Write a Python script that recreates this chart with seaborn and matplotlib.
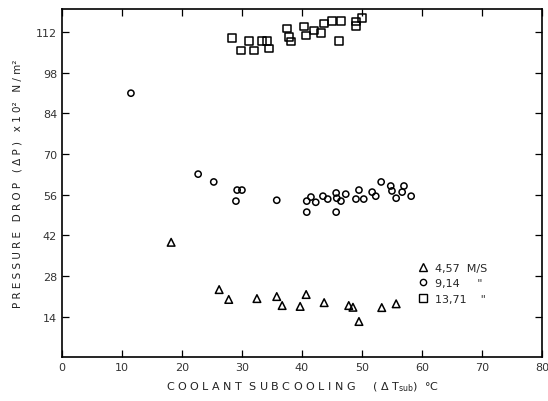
import pandas as pd
import seaborn as sns
import matplotlib.pyplot as plt
from matplotlib.lines import Line2D

# 4.57 m/s (triangles)
tri_x = [18.2, 26.2, 27.8, 32.5, 35.8, 36.7, 39.7, 40.7, 43.7, 47.8, 48.5, 49.5, 53.3, 55.7]
tri_y = [39.6, 23.3, 19.9, 20.2, 20.9, 17.8, 17.5, 21.6, 18.8, 17.8, 17.2, 12.3, 17.1, 18.4]

# 9.14 m/s (circles)
circ_x = [11.5, 22.7, 25.3, 29.2, 30.0, 29.0, 35.8, 40.8, 40.8, 41.5, 42.3, 43.5, 44.3,
          45.7, 45.8, 46.5, 45.7, 47.3, 49.0, 49.5, 50.3, 51.7, 52.3, 53.2, 54.8, 55.0,
          55.7, 56.7, 57.0, 58.2]
circ_y = [91.0, 63.1, 60.4, 57.6, 57.6, 53.8, 54.1, 53.8, 50.0, 55.2, 53.4, 55.5, 54.5,
          56.6, 54.8, 53.8, 50.0, 56.2, 54.5, 57.6, 54.5, 56.9, 55.5, 60.4, 59.0, 57.3,
          54.8, 56.9, 59.0, 55.5]

# 13.71 m/s (squares)
sq_x = [28.3, 29.8, 31.2, 32.0, 33.3, 34.2, 34.5, 37.5, 37.8, 38.2, 40.3, 40.7, 42.0,
        43.2, 43.7, 45.0, 46.2, 46.5, 49.0, 49.0, 50.0]
sq_y = [110.0, 105.7, 109.1, 105.7, 109.1, 109.1, 106.4, 113.3, 110.5, 108.8, 114.0,
        110.9, 112.6, 111.6, 115.0, 116.0, 109.1, 116.0, 115.7, 114.3, 117.0]

x_ticks = [0, 10, 20, 30, 40, 50, 60, 70, 80]
y_ticks = [14, 28, 42, 56, 70, 84, 98, 112]

sns.set_style("ticks")
plt.rcParams['font.family'] = ['DejaVu Sans']

fig = plt.figure(figsize=(5.48, 4.02), dpi=100)
ax = fig.add_axes([0.113, 0.109, 0.876, 0.866])

tri = pd.DataFrame({"x": tri_x, "y": tri_y})
circ = pd.DataFrame({"x": circ_x, "y": circ_y})
sq = pd.DataFrame({"x": sq_x, "y": sq_y})

sns.scatterplot(data=tri, x="x", y="y", marker="^", s=30, fc="none", ec="black",
                linewidth=1.1, ax=ax)
sns.scatterplot(data=circ, x="x", y="y", marker="o", s=20, fc="none", ec="black",
                linewidth=1.1, ax=ax)
sns.scatterplot(data=sq, x="x", y="y", marker="s", s=32, fc="none", ec="black",
                linewidth=1.1, ax=ax)

ax.set_xlim(0, 80)
ax.set_ylim(0, 120)
ax.set_xticks(x_ticks)
ax.set_yticks(y_ticks)
ax.tick_params(direction="in", top=True, right=True, length=5, width=0.9,
               labelsize=8, colors="black", labelcolor="#333333")
for s in ax.spines.values():
    s.set_linewidth(1.2)
    s.set_color("black")

ax.set_xlabel(r"C O O L A N T  S U B C O O L I N G     ( Δ T$_{\rm sub}$)  °C",
              fontsize=8, color="#222222", labelpad=5)
ax.set_ylabel("P R E S S U R E   D R O P   ( Δ P )   x 1 0²   N / m²",
              fontsize=7.5, color="#222222", labelpad=10)

handles = [
    Line2D([], [], marker="^", ls="none", mfc="none", mec="black", ms=5.5),
    Line2D([], [], marker="o", ls="none", mfc="none", mec="black", ms=4.5),
    Line2D([], [], marker="s", ls="none", mfc="none", mec="black", ms=5.5),
]
labels = ["4,57  M/S", "9,14     \"", "13,71    \""]
ax.legend(handles, labels, loc="upper left", bbox_to_anchor=(0.72, 0.30),
          frameon=False, fontsize=8, handlelength=1.0, handletextpad=0.6,
          labelspacing=0.5)

fig.savefig("out.png", dpi=100)
